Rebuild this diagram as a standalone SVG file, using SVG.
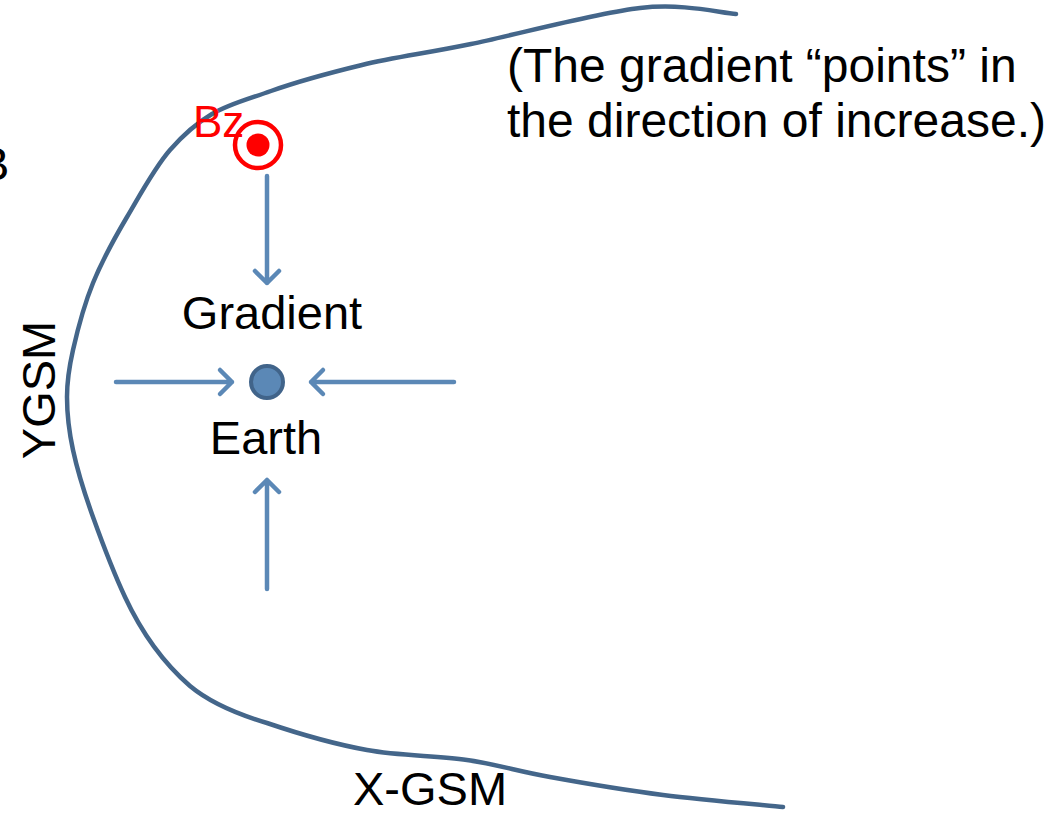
<svg xmlns="http://www.w3.org/2000/svg" width="1050" height="814" viewBox="0 0 1050 814">
<defs>
<style>
text{font-family:"Liberation Sans",Arial,sans-serif;font-size:47px;fill:#000}
.arrow{stroke:#5b88b6;stroke-width:4.5;fill:none;stroke-linecap:round;stroke-linejoin:round}
.bound{stroke:#44668a;stroke-width:4.5;fill:none;stroke-linecap:round}
</style>
</defs>
<rect width="1050" height="814" fill="#fff"/>
<g id="boundary">
<path class="bound" d="M736,14 C720,13 684,3 640,8 C596,13 517,34.5 471,44 C425,53.5 395,57 362,65 C329,73 295,82.5 271,91 C247,99.5 229,104 212,114 C195,124 184,134 170,150 C155,167 140,195 127,217 C114,239 102,261 93,283 C84,305 77.3,331 73,350 C68.7,369 67,380 67,397 C67,414 68.7,430 73,450 C77.3,470 84,492 93,517 C102,542 111,567 125,597 C139,627 160,660 190,686 C208,701 235,713.5 267,723 C295,732.5 333.7,744 367,750 C400,756 436.5,755.5 467,760 C497.5,764.5 517,771 550,777 C583,783 624,790 663,795 C702,800 763,805 783,807"/>
</g>
<g id="cut-text"><text x="-22" y="180">B</text></g>
<g id="bz">
<circle cx="258" cy="145" r="23" fill="none" stroke="#ff0000" stroke-width="4.5"/>
<circle cx="258" cy="145" r="11.5" fill="#ff0000"/>
<text x="193" y="137" style="fill:#ff0000;font-size:44px">Bz</text>
</g>
<g id="earth">
<circle cx="267" cy="382" r="16" fill="#5b88b6" stroke="#41648a" stroke-width="4"/>
<text x="266" y="454" text-anchor="middle">Earth</text>
</g>
<g id="gradient"><text x="272" y="329" text-anchor="middle">Gradient</text></g>
<g id="connectors">
<path class="arrow" d="M267,176 V283 M255,271 L267,283 L279,271"/>
<path class="arrow" d="M116,382 H232 M220,370 L232,382 L220,394"/>
<path class="arrow" d="M454,382 H311 M323,370 L311,382 L323,394"/>
<path class="arrow" d="M267,589 V480 M255,492 L267,480 L279,492"/>
</g>
<g id="axes">
<text transform="translate(55,390) rotate(-90)" text-anchor="middle">YGSM</text>
<text x="353" y="805">X-GSM</text>
</g>
<g id="note">
<text x="507" y="82" style="font-size:48px">(The gradient “points” in</text>
<text x="507" y="137" style="font-size:48px">the direction of increase.)</text>
</g>
</svg>
